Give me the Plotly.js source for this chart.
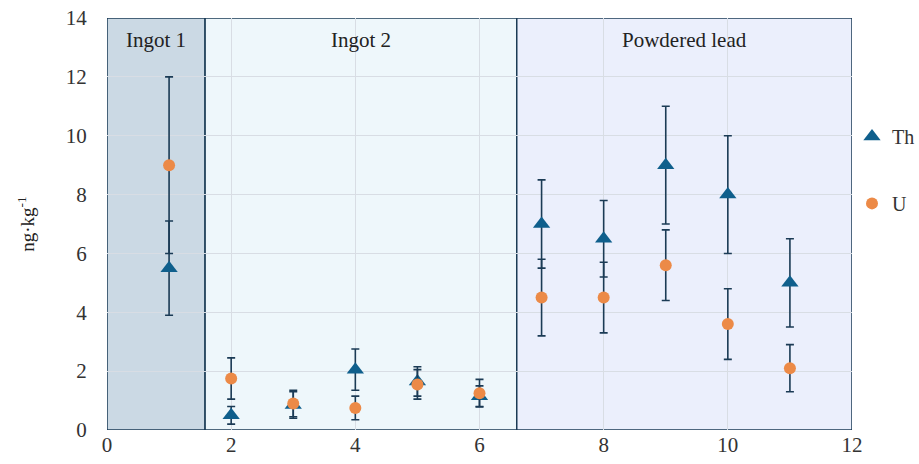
<!DOCTYPE html>
<html><head><meta charset="utf-8">
<script src="https://cdn.plot.ly/plotly-3.0.1.min.js"></script>
<style>html,body{margin:0;padding:0;background:#fff}#chart{width:919px;height:464px}</style>
</head><body><div id="chart"></div>
<script>
const samples = [1, 2, 3, 4, 5, 6, 7, 8, 9, 10, 11];
const thValues = [5.5, 0.5, 0.85, 2.05, 1.65, 1.15, 7.0, 6.5, 9.0, 8.0, 5.0];
const thErrors = [1.6, 0.3, 0.45, 0.7, 0.5, 0.35, 1.5, 1.3, 2.0, 2.0, 1.5];
const uValues = [9.0, 1.75, 0.9, 0.75, 1.55, 1.25, 4.5, 4.5, 5.6, 3.6, 2.1];
const uErrors = [3.0, 0.7, 0.45, 0.4, 0.5, 0.47, 1.3, 1.2, 1.2, 1.2, 0.8];
const groupLabels = ["Ingot 1", "Ingot 2", "Powdered lead"];
const xTicks = [0, 2, 4, 6, 8, 10, 12];
const yTicks = [0, 2, 4, 6, 8, 10, 12, 14];

const navy = '#1b3b55';
const font = '"Liberation Serif", "Times New Roman", serif';

const traces = [
  {x: samples, y: thValues, name: 'Th', type: 'scatter', mode: 'markers',
   legendgroup: 'th',
   marker: {symbol: 'triangle-up', size: 15, color: '#0f5f8c'},
   error_y: {type: 'data', array: thErrors, visible: true, color: navy, thickness: 1.6, width: 4}},
  {x: samples, y: uValues, name: 'U', type: 'scatter', mode: 'markers',
   legendgroup: 'u',
   marker: {symbol: 'circle', size: 12, color: '#ec8a47'},
   error_y: {type: 'data', array: uErrors, visible: true, color: navy, thickness: 1.6, width: 4}}
];

const bounds = [[0, 1.58], [1.58, 6.6], [6.6, 12]];
const fills = ['#cbd9e4', '#eef7fb', '#ebeffc'];
const shapes = bounds.map((b, i) => ({
  type: 'rect', xref: 'x', yref: 'y', x0: b[0], x1: b[1], y0: 0, y1: 14,
  fillcolor: fills[i], line: {color: navy, width: 1.5}, layer: 'below'
}));
const annotations = bounds.map((b, i) => ({
  x: (b[0] + b[1]) / 2, y: 13.25, xref: 'x', yref: 'y', text: groupLabels[i],
  showarrow: false, font: {family: font, size: 21, color: '#222'}
}));

const layout = {
  width: 919, height: 464,
  margin: {l: 107, r: 67, t: 18, b: 34, autoexpand: false},
  paper_bgcolor: '#fff', plot_bgcolor: '#fff',
  font: {family: font, size: 21, color: '#333'},
  xaxis: {range: [0, 12], tickvals: xTicks, showgrid: true, gridcolor: '#d8dde4', zeroline: false,
          showline: false, ticks: '', automargin: false,
          tickfont: {family: font, size: 21, color: '#333'}},
  yaxis: {range: [0, 14], tickvals: yTicks, showgrid: true, gridcolor: '#d8dde4', zeroline: false,
          showline: false, ticks: 'outside', ticklen: 15, tickcolor: 'rgba(0,0,0,0)', automargin: false,
          tickfont: {family: font, size: 21, color: '#333'},
          title: {text: 'ng·kg<sup>-1</sup>', font: {family: font, size: 19, color: '#222'}, standoff: 26}},
  shapes: shapes,
  annotations: annotations,
  legend: {x: 1.0, y: 0.76, xanchor: 'left', yanchor: 'top', tracegroupgap: 38,
           font: {family: font, size: 20, color: '#333'}, bgcolor: 'rgba(0,0,0,0)'},
  showlegend: true
};

Plotly.newPlot('chart', traces, layout, {displayModeBar: false, staticPlot: true});
</script></body></html>
